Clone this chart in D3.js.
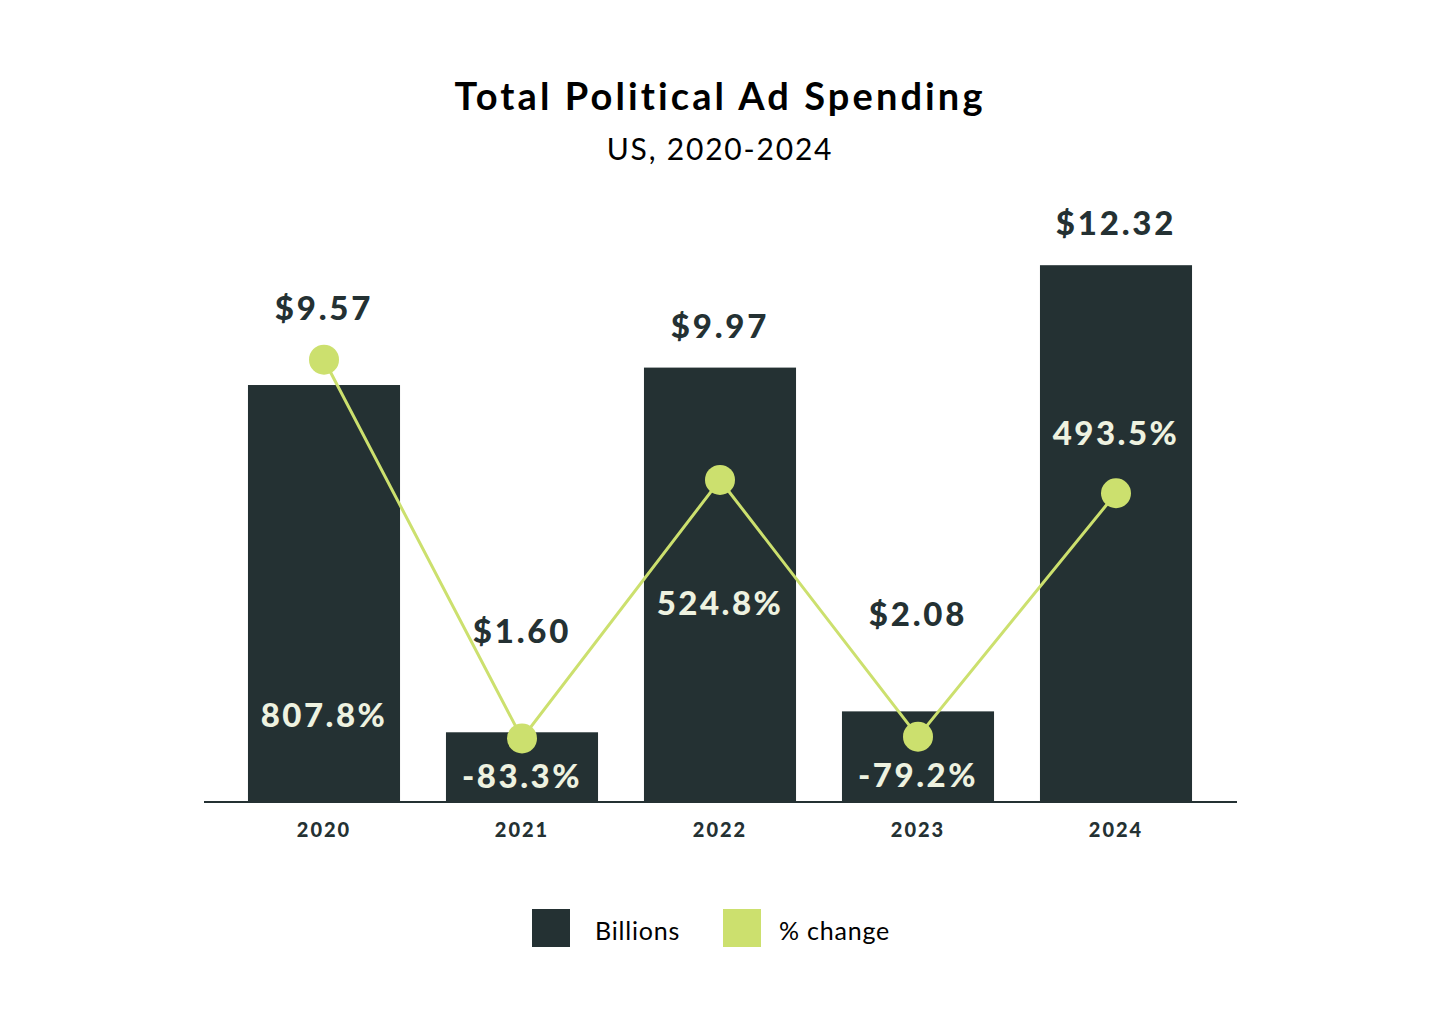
<!DOCTYPE html>
<html>
<head>
<meta charset="utf-8">
<script src="https://cdn.jsdelivr.net/npm/d3@7"></script>
<style>
    body { margin: 0; background: #fff; }
    svg text { font-family: "Lato", "Noto Sans", sans-serif; }
</style>
</head>
<body>
<div id="chart"><svg width="1440" height="1024"></svg></div>
<script>
// дані
const years = ["2020", "2021", "2022", "2023", "2024"];
const billions = [9.57, 1.60, 9.97, 2.08, 12.32];
const pctChange = [807.8, -83.3, 524.8, -79.2, 493.5];
const legendLabels = ["Billions", "% change"];

// де ставити підпис відсотка
const pctPlace = ["bottom", "below", "deep", "below", "above"];

const svg = d3.select("#chart svg");
const width = parseInt(svg.attr("width"));
const baseY = 802;
const barColor = "#243133";
const lineColor = "#cce06e";
const pctTextColor = "#eef2e0";

const x = d3.scaleBand()
    .domain(years)
    .range([225, 1215])
    .paddingInner(0.232)
    .paddingOuter(0.116);

const yBar = d3.scaleLinear().domain([0, 14]).range([baseY, baseY - 610]);
const yPct = d3.scaleLinear().domain([-200, 1000]).range([788, 278]);

// заголовок
svg.append("text")
    .attr("x", width / 2)
    .attr("y", 110)
    .attr("text-anchor", "middle")
    .attr("font-size", "38px")
    .attr("font-weight", 700)
    .attr("letter-spacing", "3.1px")
    .attr("fill", "#000")
    .text("Total Political Ad Spending");

svg.append("text")
    .attr("x", width / 2)
    .attr("y", 160)
    .attr("text-anchor", "middle")
    .attr("font-size", "30px")
    .attr("letter-spacing", "1.8px")
    .attr("fill", "#000")
    .text("US, 2020-2024");

// стовпчики
svg.selectAll(".bar")
    .data(years)
    .enter()
    .append("rect")
    .attr("class", "bar")
    .attr("x", d => x(d))
    .attr("y", (d, i) => yBar(billions[i]))
    .attr("width", x.bandwidth())
    .attr("height", (d, i) => baseY - yBar(billions[i]))
    .attr("fill", barColor);

// вісь x
const xAxis = svg.append("g")
    .attr("transform", `translate(0,${baseY})`)
    .call(d3.axisBottom(x).tickSize(0).tickPadding(21));
xAxis.select(".domain")
    .attr("d", `M204,0H1237`)
    .attr("stroke", barColor)
    .attr("stroke-width", 2);
xAxis.selectAll("text")
    .attr("font-family", "Lato, sans-serif")
    .attr("font-size", "20px")
    .attr("font-weight", 900)
    .attr("letter-spacing", "2px")
    .attr("fill", barColor);

// лінія відсотків
const cx = d => x(d) + x.bandwidth() / 2;
const line = d3.line()
    .x((d, i) => cx(years[i]))
    .y(d => yPct(d));

svg.append("path")
    .datum(pctChange)
    .attr("d", line)
    .attr("fill", "none")
    .attr("stroke", lineColor)
    .attr("stroke-width", 3);

svg.selectAll(".dot")
    .data(pctChange)
    .enter()
    .append("circle")
    .attr("class", "dot")
    .attr("cx", (d, i) => cx(years[i]))
    .attr("cy", d => yPct(d))
    .attr("r", 15)
    .attr("fill", lineColor);

// підписи сум: над стовпчиком або точкою, вище у "впадині" лінії
function valLabelY(d, i) {
    const dotY = yPct(pctChange[i]);
    const prev = i > 0 ? pctChange[i - 1] : -Infinity;
    const next = i < pctChange.length - 1 ? pctChange[i + 1] : -Infinity;
    const isDip = pctChange[i] < prev && pctChange[i] < next;
    return Math.min(yBar(d) - 30, dotY - 40) - (isDip ? 55 : 0);
}

svg.selectAll(".valLabel")
    .data(billions)
    .enter()
    .append("text")
    .attr("class", "valLabel")
    .attr("x", (d, i) => cx(years[i]))
    .attr("y", valLabelY)
    .attr("text-anchor", "middle")
    .attr("font-size", "33px")
    .attr("font-weight", 900)
    .attr("letter-spacing", "2.8px")
    .attr("fill", barColor)
    .text(d => "$" + d.toFixed(2));

// підписи відсотків
function pctLabelY(d, i) {
    const dotY = yPct(d);
    if (pctPlace[i] === "bottom") return baseY - 75;
    if (pctPlace[i] === "below") return dotY + 50;
    if (pctPlace[i] === "deep") return dotY + 135;
    return dotY - 48;
}

svg.selectAll(".pctLabel")
    .data(pctChange)
    .enter()
    .append("text")
    .attr("class", "pctLabel")
    .attr("x", (d, i) => cx(years[i]))
    .attr("y", pctLabelY)
    .attr("text-anchor", "middle")
    .attr("font-size", "33px")
    .attr("font-weight", 900)
    .attr("letter-spacing", "2.5px")
    .attr("fill", pctTextColor)
    .text(d => d.toFixed(1) + "%");

// легенда
const legendColors = [barColor, lineColor];
const legendX = [532, 723];
const legend = svg.selectAll(".legend")
    .data(legendLabels)
    .enter()
    .append("g")
    .attr("class", "legend")
    .attr("transform", (d, i) => `translate(${legendX[i]},909)`);

legend.append("rect")
    .attr("width", 38)
    .attr("height", 38)
    .attr("fill", (d, i) => legendColors[i]);

legend.append("text")
    .attr("x", (d, i) => i === 0 ? 63 : 56)
    .attr("y", 31)
    .attr("font-size", "25px")
    .attr("letter-spacing", "0.8px")
    .attr("fill", "#000")
    .text(d => d);
</script>
</body>
</html>
